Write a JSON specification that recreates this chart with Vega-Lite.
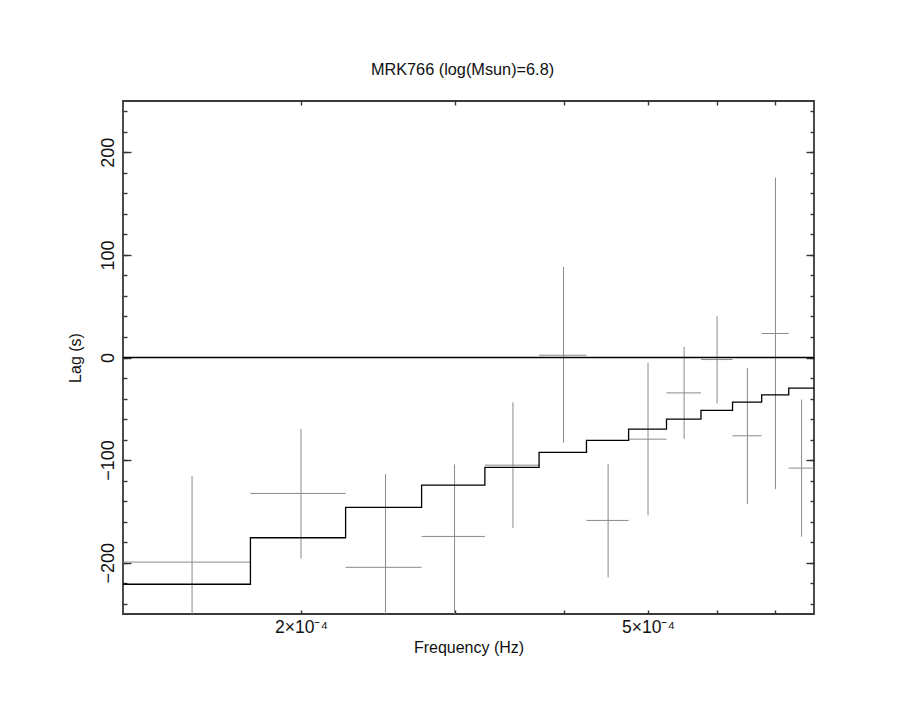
{
  "$schema": "https://vega.github.io/schema/vega-lite/v6.json",
  "width": 691,
  "height": 513,
  "autosize": {"type": "none"},
  "padding": {"left": 123, "top": 101, "right": 108, "bottom": 87},
  "background": "white",
  "config": {
    "view": {"stroke": "#3a3a3a", "strokeWidth": 1.8},
    "font": "Liberation Sans",
    "axis": {
      "grid": false,
      "domain": false,
      "tickColor": "#333333",
      "tickWidth": 1.4,
      "labelColor": "#111111",
      "titleColor": "#111111",
      "labelFont": "Liberation Sans",
      "titleFont": "Liberation Sans",
      "titleFontWeight": "normal"
    }
  },
  "title": {
    "text": "MRK766 (log(Msun)=6.8)",
    "fontSize": 16.3,
    "fontWeight": "normal",
    "font": "Liberation Sans",
    "color": "#111111",
    "frame": "group",
    "anchor": "middle",
    "dx": -6,
    "offset": 22
  },
  "datasets": {
    "points": [
      {"f": 0.00015, "flo": 0.000125, "fhi": 0.000175, "lag": -199.4, "lo": -283, "hi": -115.6},
      {"f": 0.0002, "flo": 0.000175, "fhi": 0.000225, "lag": -132.5, "lo": -195.8, "hi": -69.5},
      {"f": 0.00025, "flo": 0.000225, "fhi": 0.000275, "lag": -204.5, "lo": -295, "hi": -113.7},
      {"f": 0.0003, "flo": 0.000275, "fhi": 0.000325, "lag": -174.4, "lo": -260, "hi": -104.2},
      {"f": 0.00035, "flo": 0.000325, "fhi": 0.000375, "lag": -104.9, "lo": -166, "hi": -43.8},
      {"f": 0.0004, "flo": 0.000375, "fhi": 0.000425, "lag": 2.2, "lo": -83.2, "hi": 88.2},
      {"f": 0.00045, "flo": 0.000425, "fhi": 0.000475, "lag": -158.8, "lo": -214.3, "hi": -103.9},
      {"f": 0.0005, "flo": 0.000475, "fhi": 0.000525, "lag": -79.6, "lo": -153.9, "hi": -5.2},
      {"f": 0.00055, "flo": 0.000525, "fhi": 0.000575, "lag": -34.5, "lo": -79.3, "hi": 10.3},
      {"f": 0.0006, "flo": 0.000575, "fhi": 0.000625, "lag": -2.0, "lo": -44.8, "hi": 40.2},
      {"f": 0.00065, "flo": 0.000625, "fhi": 0.000675, "lag": -76.3, "lo": -142.9, "hi": -10.1},
      {"f": 0.0007, "flo": 0.000675, "fhi": 0.000725, "lag": 23.4, "lo": -128.3, "hi": 175.3},
      {"f": 0.00075, "flo": 0.000725, "fhi": 0.000775, "lag": -107.8, "lo": -174.7, "hi": -40.9}
    ],
    "model": [
      {"f": 0.000125, "lag": -221.0},
      {"f": 0.000175, "lag": -175.7},
      {"f": 0.000225, "lag": -146.0},
      {"f": 0.000275, "lag": -124.4},
      {"f": 0.000325, "lag": -107.1},
      {"f": 0.000375, "lag": -92.5},
      {"f": 0.000425, "lag": -80.8},
      {"f": 0.000475, "lag": -69.8},
      {"f": 0.000525, "lag": -60.1},
      {"f": 0.000575, "lag": -51.6},
      {"f": 0.000625, "lag": -43.5},
      {"f": 0.000675, "lag": -36.4},
      {"f": 0.000725, "lag": -29.9},
      {"f": 0.000775, "lag": -29.9}
    ]
  },
  "layer": [
    {
      "data": {"name": "points"},
      "mark": {"type": "rule", "color": "#8a8a8a", "strokeWidth": 1, "clip": true},
      "encoding": {
        "x": {
          "field": "f", "type": "quantitative",
          "scale": {"type": "log", "domain": [0.000125, 0.000775], "nice": false},
          "axis": {"orient": "bottom", "values": [0.0002, 0.0003, 0.0004, 0.0005, 0.0006, 0.0007], "offset": -4, "tickSize": 4, "labelPadding": 4, "labelFontSize": 17.5, "labelExpr": "abs(datum.value - 0.0002) < 0.000001 ? '2×10⁻⁴' : (abs(datum.value - 0.0005) < 0.000001 ? '5×10⁻⁴' : '')", "title": "Frequency (Hz)", "titleFontSize": 16, "titlePadding": 4}
        },
        "y": {
          "field": "lo", "type": "quantitative",
          "scale": {"domain": [-250, 250], "nice": false, "zero": false},
          "axis": {"orient": "left", "values": [-200, -100, 0, 100, 200], "offset": -8, "tickSize": 8, "labelPadding": 6, "labelFontSize": 18, "labelAngle": 270, "title": "Lag (s)", "titleFontSize": 16, "titlePadding": 16}
        },
        "y2": {"field": "hi"}
      }
    },
    {
      "data": {"name": "points"},
      "mark": {"type": "rule", "color": "#8a8a8a", "strokeWidth": 1, "clip": true},
      "encoding": {
        "x": {
          "field": "flo", "type": "quantitative",
          "axis": {"orient": "top", "values": [0.0002, 0.0003, 0.0004, 0.0005, 0.0006, 0.0007], "offset": -4, "tickSize": 4, "labels": false, "title": null}
        },
        "x2": {"field": "fhi"},
        "y": {
          "field": "lag", "type": "quantitative",
          "axis": {"orient": "right", "values": [-200, -100, 0, 100, 200], "offset": -8, "tickSize": 8, "labels": false, "title": null}
        }
      }
    },
    {
      "data": {"name": "model"},
      "mark": {"type": "line", "color": "#000000", "strokeWidth": 1.3, "interpolate": "step-after", "clip": true},
      "encoding": {
        "x": {"field": "f", "type": "quantitative", "axis": null},
        "y": {
          "field": "lag", "type": "quantitative",
          "axis": {"orient": "left", "values": [-240, -220, -200, -180, -160, -140, -120, -100, -80, -60, -40, -20, 0, 20, 40, 60, 80, 100, 120, 140, 160, 180, 200, 220, 240], "offset": -4, "tickSize": 4, "labels": false, "title": null}
        }
      }
    },
    {
      "data": {"name": "model"},
      "mark": {"type": "line", "opacity": 0, "clip": true},
      "encoding": {
        "x": {"field": "f", "type": "quantitative", "axis": null},
        "y": {
          "field": "lag", "type": "quantitative",
          "axis": {"orient": "right", "values": [-240, -220, -200, -180, -160, -140, -120, -100, -80, -60, -40, -20, 0, 20, 40, 60, 80, 100, 120, 140, 160, 180, 200, 220, 240], "offset": -4, "tickSize": 4, "labels": false, "title": null}
        }
      }
    },
    {
      "data": {"values": [{}]},
      "mark": {"type": "rule", "color": "#000000", "strokeWidth": 1.3},
      "encoding": {"y": {"datum": 0, "axis": null}}
    }
  ],
  "resolve": {"axis": {"x": "independent", "y": "independent"}}
}
